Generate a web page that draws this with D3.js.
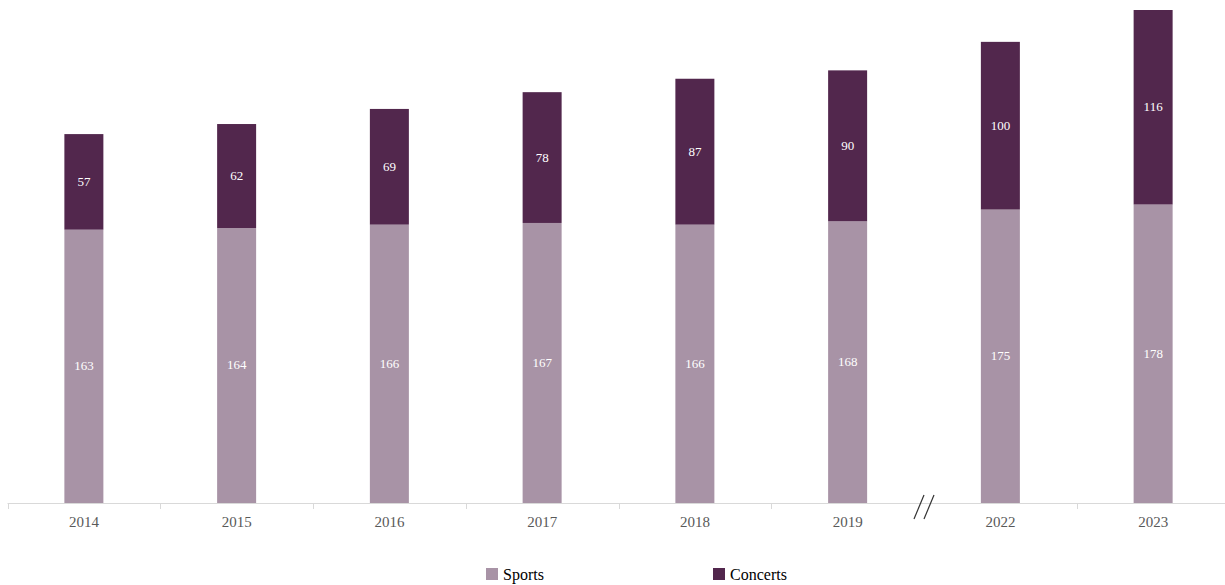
<!DOCTYPE html>
<html>
<head>
<meta charset="utf-8">
<script src="https://cdn.jsdelivr.net/npm/d3@7"></script>
<style>
  body { margin: 0; background: #fff; }
  svg { display: block; font-family: "Liberation Serif", "Times New Roman", serif; }
</style>
</head>
<body>
<svg id="chart"></svg>
<script>
var years = ['2014', '2015', '2016', '2017', '2018', '2019', '2022', '2023'];
var sports = [163, 164, 166, 167, 166, 168, 175, 178];
var concerts = [57, 62, 69, 78, 87, 90, 100, 116];
var seriesNames = ['Sports', 'Concerts'];
var colors = ['#a893a6', '#52274d'];

var width = 1225, height = 585;
var baseY = 503;

var svg = d3.select('#chart')
  .attr('width', width)
  .attr('height', height);

var x = d3.scaleBand()
  .domain(years)
  .range([7.5, 1229.5])
  .padding(0);

var y = d3.scaleLinear()
  .domain([0, 294])
  .range([baseY, 10]);

var rows = years.map(function (yr, i) {
  return { year: yr, Sports: sports[i], Concerts: concerts[i] };
});
var stacked = d3.stack().keys(seriesNames)(rows);

var barW = 39;

// axis line + ticks
var g = svg.append('g');
g.append('line')
  .attr('x1', x.range()[0]).attr('x2', width)
  .attr('y1', baseY + 0.5).attr('y2', baseY + 0.5)
  .attr('stroke', '#d9d9d9').attr('stroke-width', 1);

var tickXs = years.map(function (d) { return x(d); }).concat([x.range()[1]]);
tickXs.forEach(function (tx, i) {
  if (i === 6) return; // axis break between 2019 and 2022
  g.append('line')
    .attr('x1', Math.round(tx) + 0.5).attr('x2', Math.round(tx) + 0.5)
    .attr('y1', baseY).attr('y2', baseY + 6)
    .attr('stroke', '#d9d9d9');
});

// break marker
var bx = x('2022');
[-6, 4].forEach(function (off) {
  g.append('line')
    .attr('x1', bx + off - 4).attr('y1', 519)
    .attr('x2', bx + off + 6).attr('y2', 495)
    .attr('stroke', '#333').attr('stroke-width', 1.2);
});

// year labels
g.selectAll('text.year')
  .data(years)
  .enter().append('text')
  .attr('class', 'year')
  .attr('x', function (d) { return x(d) + x.bandwidth() / 2; })
  .attr('y', 527)
  .attr('text-anchor', 'middle')
  .attr('font-size', 15)
  .attr('fill', '#595959')
  .text(function (d) { return d; });

// bars
var layers = svg.selectAll('g.layer')
  .data(stacked)
  .enter().append('g')
  .attr('class', 'layer')
  .attr('fill', function (d, i) { return colors[i]; });

layers.selectAll('rect')
  .data(function (d) { return d; })
  .enter().append('rect')
  .attr('x', function (d) { return x(d.data.year) + x.bandwidth() / 2 - barW / 2; })
  .attr('y', function (d) { return y(d[1]); })
  .attr('width', barW)
  .attr('height', function (d) { return y(d[0]) - y(d[1]); });

layers.selectAll('text')
  .data(function (d) { return d; })
  .enter().append('text')
  .attr('x', function (d) { return x(d.data.year) + x.bandwidth() / 2; })
  .attr('y', function (d) { return (y(d[0]) + y(d[1])) / 2 + 4; })
  .attr('text-anchor', 'middle')
  .attr('font-size', 13)
  .attr('fill', '#ffffff')
  .text(function (d) { return d[1] - d[0]; });

// legend
var legendX = [486, 713];
var legend = svg.selectAll('g.legend')
  .data(seriesNames)
  .enter().append('g')
  .attr('class', 'legend')
  .attr('transform', function (d, i) { return 'translate(' + legendX[i] + ',568)'; });

legend.append('rect')
  .attr('width', 12).attr('height', 12)
  .attr('fill', function (d, i) { return colors[i]; });

legend.append('text')
  .attr('x', 17).attr('y', 12)
  .attr('font-size', 16)
  .attr('fill', '#000')
  .text(function (d) { return d; });
</script>
</body>
</html>
